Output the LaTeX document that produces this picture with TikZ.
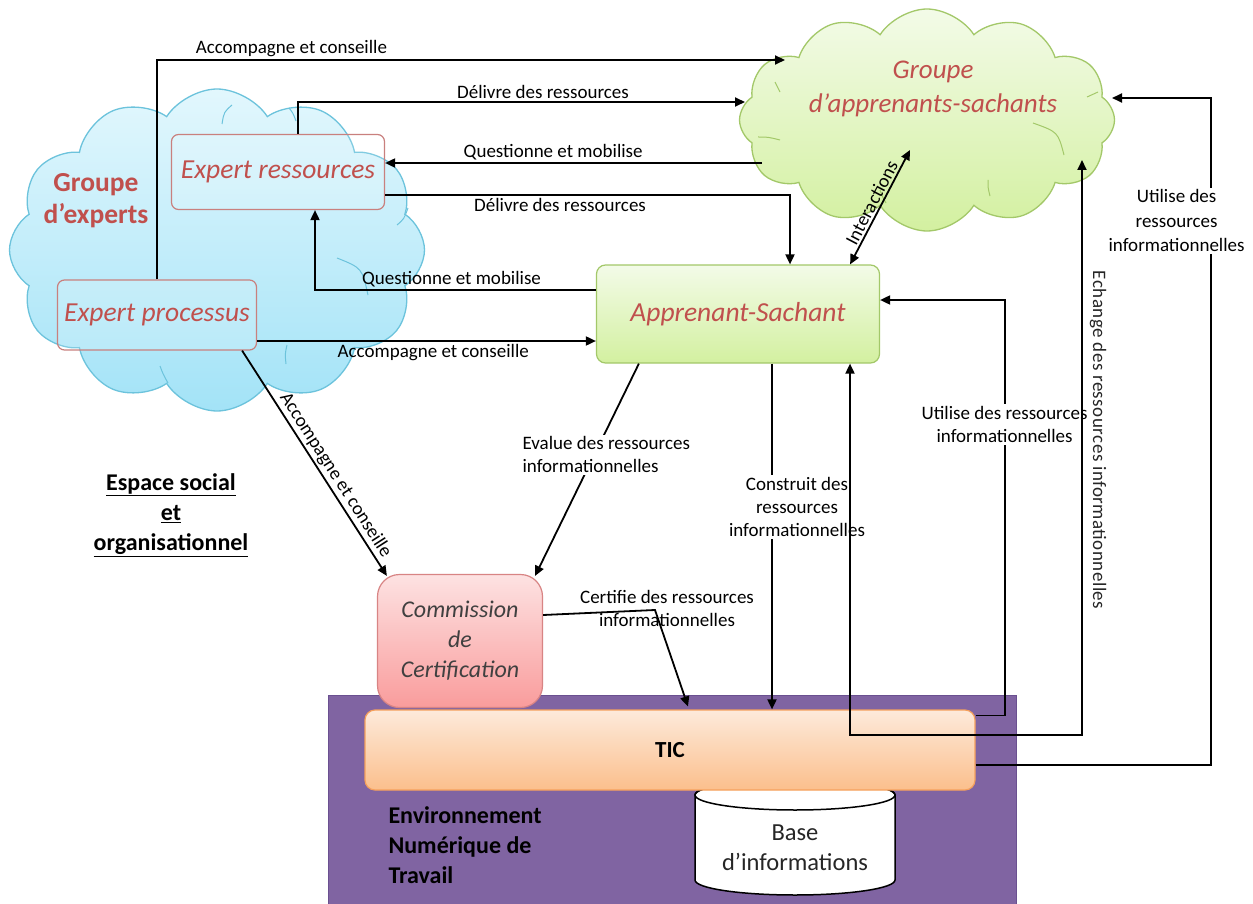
\documentclass[tikz,border=0pt]{standalone}
\usepackage{fontspec}
\setmainfont{Carlito}
\usetikzlibrary{shapes.symbols,arrows.meta,calc}
\definecolor{redtxt}{HTML}{C0504D}
\definecolor{boxred}{HTML}{C9807E}
\definecolor{cbTop}{HTML}{E2F7FD}
\definecolor{cbBot}{HTML}{A3E3F7}
\definecolor{cbLine}{HTML}{6CC3DC}
\definecolor{cgTop}{HTML}{F3FBE8}
\definecolor{cgBot}{HTML}{D3F0A0}
\definecolor{cgLine}{HTML}{A3C869}
\definecolor{ccTop}{HTML}{FDE2E2}
\definecolor{ccBot}{HTML}{F99C9C}
\definecolor{ccLine}{HTML}{D88484}
\definecolor{envFill}{HTML}{8064A2}
\definecolor{envLine}{HTML}{6A5090}
\definecolor{ticTop}{HTML}{FDEADB}
\definecolor{ticBot}{HTML}{FBBF8C}
\definecolor{ticLine}{HTML}{F5A05C}
\definecolor{grtxt}{HTML}{404040}
\begin{document}
\begin{tikzpicture}[x=1pt,y=-1pt,
 conn/.style={line width=1.8pt, draw=black},
 arr/.style={conn, -{Triangle[length=10pt,width=9pt]}},
 arrb/.style={conn, {Triangle[length=10pt,width=9pt]}-{Triangle[length=10pt,width=9pt]}},
 lbl/.style={font=\fontsize{19}{23}\selectfont, align=center, inner sep=2pt, text=black},
 wlbl/.style={lbl, fill=white},
 cloudbase/.style={cloud, cloud puffs=12, cloud puff arc=115, cloud ignores aspect, line width=1.3pt},
 innerb/.style={draw=cbLine, line width=1pt},
 innerg/.style={draw=cgLine, line width=1pt},
 expbox/.style={draw=boxred, line width=1.2pt, rounded corners=7pt, fill=white, fill opacity=0.15, text opacity=1, text=redtxt, font=\fontsize{27.5}{30}\selectfont\itshape},
 bigbold/.style={font=\fontsize{24}{30}\selectfont\bfseries, align=left, text=black},
]
\useasboundingbox (0,0) rectangle (1253,904);
\fill[white] (0,0) rectangle (1253,904);

% clouds
\node[cloudbase, draw=cbLine, top color=cbTop, bottom color=cbBot, minimum width=415pt, minimum height=322pt] (ge) at (217,250) {};
\node[cloudbase, draw=cgLine, top color=cgTop, bottom color=cgBot, minimum width=375pt, minimum height=222pt] (gc) at (927,120) {};
% inner arcs of the clouds
\draw[innerb] (337,258) .. controls (362,268) .. (368,295);
\draw[innerb] (222,124) .. controls (224,112) .. (232,105);
\draw[innerb] (289,108) .. controls (293,113) .. (296,121);
\draw[innerb] (397,225) .. controls (404,219) .. (408,208);
\draw[innerb] (160,366) .. controls (163,374) .. (168,383);
\draw[innerb] (287,345) .. controls (285,354) .. (286,364);
\draw[innerg] (1033,123) .. controls (1058,132) .. (1064,155);
\draw[innerg] (1087,97) .. controls (1093,95) .. (1098,92);
\draw[innerg] (988,180) .. controls (988,188) .. (990,196);
\draw[innerg] (880,190) .. controls (882,196) .. (886,203);
\draw[innerg] (758,137) .. controls (768,137) .. (780,140);
\draw[innerg] (775,82) .. controls (777,87) .. (780,92);
\node[font=\fontsize{27.5}{32}\selectfont\bfseries, text=redtxt, align=center] (getxt) at (96,201) {Groupe\\d’experts};
\node[font=\fontsize{27}{34}\selectfont\itshape, text=redtxt, align=center] (gctxt) at (933,89) {Groupe\\d’apprenants-sachants};

% expert boxes
\node[expbox, minimum width=213pt, minimum height=75pt] (er) at (278,172) {Expert ressources};
\node[expbox, minimum width=199pt, minimum height=70pt] (ep) at (157,315) {Expert processus};

% apprenant
\node[draw=cgLine, line width=1.2pt, rounded corners=9pt, top color=cgTop, bottom color=cgBot, minimum width=283pt, minimum height=98pt, text=redtxt, font=\fontsize{27.5}{32}\selectfont\itshape] (as) at (738,314) {Apprenant-Sachant};

% environment
\node[draw=envLine, fill=envFill, line width=1pt, minimum width=688pt, minimum height=215pt, anchor=north west, inner sep=0pt] (env) at (328,695) {};
\node[bigbold, anchor=west] (envtxt) at (385,845) {Environnement\\Numérique de\\Travail};

% database cylinder
\draw[fill=white, line width=1.5pt] (695,795) -- (695,880) arc[start angle=180, end angle=360, x radius=100pt, y radius=15pt] -- (895,795) arc[start angle=0, end angle=180, x radius=100pt, y radius=15pt] -- cycle;
\draw[line width=1.5pt] (795,795) ellipse [x radius=100pt, y radius=15pt];
\node[font=\fontsize{24.5}{30}\selectfont, text=black!85, align=center] (db) at (795,848) {Base\\d’informations};

% commission
\node[draw=ccLine, line width=1.2pt, rounded corners=22pt, top color=ccTop, bottom color=ccBot, minimum width=165pt, minimum height=133pt, text=grtxt, align=center, font=\fontsize{24}{30}\selectfont\itshape] (cc) at (460,641) {Commission\\de\\Certification};

% TIC
\node[draw=ticLine, line width=1.2pt, rounded corners=10pt, top color=ticTop, bottom color=ticBot, minimum width=610pt, minimum height=80pt, font=\fontsize{23}{26}\selectfont\bfseries] (tic) at (670,750) {TIC};

% espace social
\node[font=\fontsize{24}{30}\selectfont\bfseries, align=center] (esp) at (171,515) {\underline{Espace social}\\\underline{et}\\\underline{organisationnel}};

% free end coordinates on clouds
\coordinate (gcA) at (785,60);
\coordinate (gcB) at (745,102);
\coordinate (gcC) at (762,163);
\coordinate (gcD) at (910,150);
\coordinate (gcE) at (1082,160);
\coordinate (gcF) at (1112,98);

% connectors
\draw[arr] (ep.north) |- (gcA) node[lbl, pos=0.607, above] {Accompagne et conseille};
\draw[arr] ([xshift=20pt]er.north) |- (gcB) node[lbl, pos=0.774, above] {Délivre des ressources};
\draw[arr] (gcC) -- (gcC -| er.east) node[lbl, pos=0.554, above] {Questionne et mobilise};
\draw[arr] ($(er.south east)+(0,-15)$) -| ([xshift=52pt]as.north) node[lbl, pos=0.216, below] {Délivre des ressources};
\draw[arr] ($(as.west)+(0,-24)$) -| ([xshift=37pt]er.south) node[lbl, pos=0.257, above] {Questionne et mobilise};
\coordinate (p6) at ($(ep.east)+(0,26)$);
\draw[arr] (p6) -- (p6 -| as.west) node[lbl, pos=0.52, below] {Accompagne et conseille};
\draw[arr] ($(ep.south east)+(-15,0)$) -- ($(cc.north west)+(10,2)$) node[lbl, sloped, pos=0.58, above] {Accompagne et conseille};
\draw[arr] ($(as.south west)+(43,0)$) -- ($(cc.north east)+(-8,2)$) node[wlbl, align=left, pos=0.43, xshift=12pt] {Evalue des ressources\\informationnelles};
\coordinate (p9) at ($(as.south)+(34,0)$);
\draw[arr] (p9) -- (p9 |- tic.north) node[wlbl, pos=0.415, xshift=25pt] {Construit des\\ressources\\informationnelles};
\draw[arrb] ($(as.north east)+(-30,0)$) -- (gcD) node[lbl, sloped, midway, above] {Interactions};
\coordinate (cbend) at (655,610);
\draw[arr] ($(cc.east)+(0,-26)$) -- (cbend) -- ($(tic.north)+(18,-3)$);
\node[lbl] (lcert) at (667,608) {Certifie des ressources\\informationnelles};
\coordinate (p12) at ($(tic.north east)+(0,6)$);
\draw[arr] (p12) -- ++(29,0) |- ($(as.east)+(0,-14)$) node[wlbl, pos=0.35] {Utilise des ressources\\informationnelles};
\coordinate (p13) at ($(as.south)+(112,0)$);
\draw[arrb] (p13) |- ($(gcE)+(0,575)$) -- (gcE);
\node[lbl, rotate=-90, font=\fontsize{19}{23}\selectfont\addfontfeature{LetterSpace=2.5}, text=black!85] (lech) at (1098,440) {Echange des ressources informationnelles};
\draw[arr] ($(tic.east)+(0,15)$) -- ++(235,0) |- (gcF) node[wlbl, pos=0.408, xshift=-34pt, font=\fontsize{19}{24.5}\selectfont] {Utilise des\\ressources\\informationnelles};
\end{tikzpicture}
\end{document}
